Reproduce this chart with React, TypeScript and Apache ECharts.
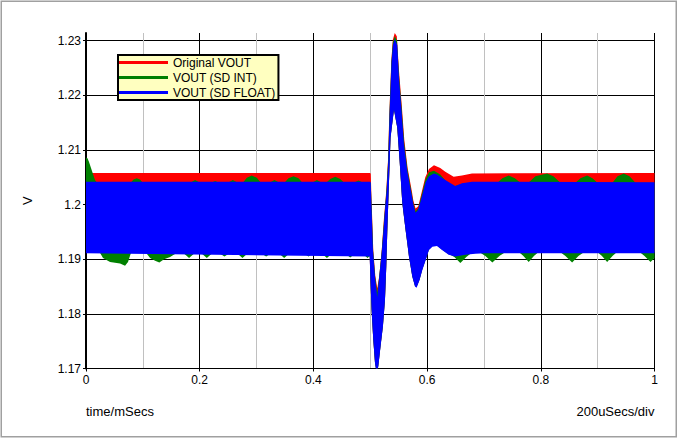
import React, { useEffect, useRef } from "react";
import * as echarts from "echarts";

const FONT = '"Liberation Sans", Arial, sans-serif';

const xTickValues = [0, 0.2, 0.4, 0.6, 0.8, 1];
const yTickValues = [1.17, 1.18, 1.19, 1.2, 1.21, 1.22, 1.23];
const seriesNames = ["Original VOUT", "VOUT (SD INT)", "VOUT (SD FLOAT)"];
const seriesColors = ["#ff0000", "#008000", "#0000ff"];

// Original VOUT: ripple envelope (upper / lower), time in mSecs
const redUpperT = [0, 0.5, 0.5009, 0.5023, 0.5053, 0.5088, 0.5123, 0.5158, 0.5202, 0.5241, 0.5269, 0.5287, 0.5312, 0.5335, 0.537, 0.5396, 0.5431, 0.5467, 0.5505, 0.5554, 0.5599, 0.5657, 0.5734, 0.5757, 0.5797, 0.5845, 0.588, 0.5968, 0.6033, 0.6121, 0.6232, 0.632, 0.6467, 0.6614, 0.679, 1];
const redUpperV = [1.2058, 1.2058, 1.2056, 1.2008, 1.1917, 1.187, 1.1847, 1.1869, 1.1917, 1.1975, 1.2008, 1.2035, 1.208, 1.2164, 1.2262, 1.2301, 1.2314, 1.2308, 1.2246, 1.2182, 1.2118, 1.2067, 1.2023, 1.2008, 1.1993, 1.1997, 1.2012, 1.205, 1.2065, 1.2072, 1.2067, 1.206, 1.2051, 1.2053, 1.2057, 1.2058];
const redLowerT = [0, 0.499, 0.5005, 0.5023, 0.5053, 0.5083, 0.5111, 0.5141, 0.5181, 0.5223, 0.5259, 0.5282, 0.5299, 0.5317, 0.5357, 0.5417, 0.5475, 0.5516, 0.5563, 0.5616, 0.5651, 0.5681, 0.571, 0.5739, 0.5787, 0.5815, 0.5868, 0.5915, 0.5974, 0.6033, 0.6092, 0.6174, 0.6262, 0.6379, 0.6496, 0.6673, 0.6849, 0.7025, 1];
const redLowerV = [1.1913, 1.1907, 1.1858, 1.1809, 1.1754, 1.1712, 1.1694, 1.1705, 1.1742, 1.1779, 1.1827, 1.1888, 1.195, 1.2005, 1.2124, 1.2175, 1.2142, 1.2082, 1.2005, 1.1959, 1.1931, 1.1906, 1.1888, 1.187, 1.1852, 1.185, 1.1864, 1.1882, 1.19, 1.1919, 1.1925, 1.1926, 1.1919, 1.191, 1.1907, 1.191, 1.1912, 1.1913, 1.1913];

// VOUT (SD INT)
const greenUpperT = [0, 0.0026, 0.0053, 0.0088, 0.0123, 0.0158, 0.0194,
  0.0787, 0.0836, 0.0893, 0.0949, 0.0998,
  0.1831, 0.1919, 0.2007,
  0.2201, 0.2271, 0.2342,
  0.2495, 0.2583, 0.2671,
  0.2759, 0.2829, 0.2917, 0.3005, 0.3076,
  0.3227, 0.3315, 0.3403,
  0.3491, 0.3561, 0.365, 0.3738, 0.3808,
  0.3974, 0.4062, 0.415,
  0.4225, 0.4296, 0.4384, 0.4472, 0.4542,
  0.4706, 0.4794, 0.4882,
  0.5, 0.5009, 0.502, 0.505, 0.5085, 0.5123, 0.5155, 0.52, 0.5241, 0.5269, 0.5288, 0.5314, 0.5337, 0.5372, 0.5398, 0.5431, 0.5471, 0.5505, 0.5552, 0.5596, 0.5654, 0.573, 0.5758, 0.5797, 0.5842, 0.5883, 0.5971, 0.6033, 0.6121, 0.6232, 0.632, 0.6467, 0.6614, 0.679, 0.695,
  0.7236, 0.7324, 0.7435, 0.7544, 0.7641,
  0.7782, 0.7905, 0.8111, 0.8222, 0.8345,
  0.8609, 0.8697, 0.8815, 0.8908, 0.8996,
  0.9261, 0.9349, 0.946, 0.956, 0.9665,
  1];
const greenUpperV = [1.2086, 1.2085, 1.2078, 1.2067, 1.2056, 1.2045, 1.204,
  1.204, 1.2046, 1.2048, 1.2046, 1.204,
  1.204, 1.2045, 1.204,
  1.204, 1.2043, 1.204,
  1.204, 1.2045, 1.204,
  1.204, 1.2049, 1.2053, 1.2049, 1.204,
  1.204, 1.2045, 1.204,
  1.204, 1.2048, 1.2052, 1.2048, 1.204,
  1.204, 1.2045, 1.204,
  1.204, 1.2047, 1.2051, 1.2047, 1.204,
  1.204, 1.2044, 1.204,
  1.204, 1.204, 1.2008, 1.1917, 1.1869, 1.1839, 1.1865, 1.1912, 1.1969, 1.2005, 1.2031, 1.208, 1.2164, 1.2262, 1.2297, 1.2308, 1.23, 1.2238, 1.2176, 1.2114, 1.2064, 1.202, 1.2003, 1.1988, 1.1993, 1.2009, 1.2046, 1.2059, 1.2062, 1.2055, 1.2044, 1.2033, 1.2038, 1.204, 1.204,
  1.204, 1.2048, 1.2053, 1.2048, 1.204,
  1.204, 1.2052, 1.2057, 1.2052, 1.204,
  1.204, 1.2048, 1.2053, 1.2048, 1.204,
  1.204, 1.2052, 1.2057, 1.2052, 1.204,
  1.204];
const greenLowerT = [0, 0.0246, 0.0299, 0.0423, 0.0599, 0.0687, 0.0739, 0.0792,
  0.1056, 0.1127, 0.1215, 0.129, 0.1373, 0.1479, 0.1602,
  0.1708, 0.1813, 0.1919,
  0.2019, 0.2125, 0.2231,
  0.2329, 0.2435, 0.254,
  0.2646, 0.2752, 0.2857,
  0.3063, 0.3169, 0.3275,
  0.338, 0.3486, 0.3592,
  0.3808, 0.3914, 0.4019,
  0.4132, 0.4238, 0.4343,
  0.4542, 0.4648, 0.4754,
  0.4847, 0.4952, 0.4991,
  0.5005, 0.5023, 0.5053, 0.5083, 0.5111, 0.5141, 0.5181, 0.5223, 0.5259, 0.5282, 0.5299, 0.5317, 0.5357, 0.5417, 0.5475, 0.5516, 0.5563, 0.5616, 0.5651, 0.5681, 0.571, 0.5739, 0.5787, 0.5815, 0.5868, 0.5915, 0.5974, 0.6033, 0.6092, 0.6174, 0.6262, 0.6379,
  0.6408, 0.6479, 0.6585, 0.669, 0.6761, 0.6866,
  0.6937, 0.7025, 0.7148, 0.7271, 0.7359,
  0.7629, 0.7694, 0.7787, 0.7879, 0.7945,
  0.8357, 0.8433, 0.8551, 0.8662, 0.8745,
  0.9009, 0.9076, 0.9167, 0.9261, 0.9326,
  0.9754, 0.9824, 0.993, 1];
const greenLowerV = [1.1912, 1.1912, 1.1902, 1.1895, 1.1892, 1.1888, 1.1895, 1.1912,
  1.1912, 1.1902, 1.1897, 1.1894, 1.19, 1.1904, 1.1912,
  1.1912, 1.1902, 1.1912,
  1.1912, 1.1902, 1.1912,
  1.1912, 1.1905, 1.1912,
  1.1912, 1.1902, 1.1912,
  1.1912, 1.1905, 1.1912,
  1.1912, 1.1902, 1.1912,
  1.1912, 1.1905, 1.1912,
  1.1912, 1.1902, 1.1912,
  1.1912, 1.1903, 1.1912,
  1.1912, 1.1902, 1.1906,
  1.1857, 1.1808, 1.1753, 1.1711, 1.1693, 1.1704, 1.1741, 1.1778, 1.1826, 1.1887, 1.1949, 1.2004, 1.2123, 1.2174, 1.2141, 1.2081, 1.2004, 1.1958, 1.193, 1.1905, 1.1887, 1.1869, 1.1851, 1.1849, 1.1863, 1.1881, 1.1899, 1.1918, 1.1924, 1.1925, 1.1918, 1.1909,
  1.1908, 1.1904, 1.1893, 1.1904, 1.191, 1.1912,
  1.1912, 1.1906, 1.1894, 1.1906, 1.1912,
  1.1912, 1.1906, 1.1895, 1.1906, 1.1912,
  1.1912, 1.1906, 1.1894, 1.1906, 1.1912,
  1.1912, 1.1906, 1.1895, 1.1906, 1.1912,
  1.1912, 1.1906, 1.1895, 1.1902];

// VOUT (SD FLOAT)
const blueUpperT = [0, 0.5, 0.5009, 0.5018, 0.5047, 0.5083, 0.5123, 0.5153, 0.5199, 0.5241, 0.5269, 0.529, 0.5317, 0.534, 0.5375, 0.54, 0.5431, 0.5475, 0.5505, 0.5551, 0.5593, 0.5651, 0.5727, 0.576, 0.5797, 0.584, 0.5886, 0.5974, 0.6033, 0.6121, 0.6174, 0.632, 0.6496, 0.6614, 0.679, 1];
const blueUpperV = [1.2042, 1.2042, 1.204, 1.2008, 1.1917, 1.1868, 1.1831, 1.1862, 1.1908, 1.1963, 1.2003, 1.2027, 1.208, 1.2164, 1.2262, 1.2292, 1.2303, 1.2292, 1.2231, 1.217, 1.2109, 1.2061, 1.2018, 1.1999, 1.1985, 1.199, 1.2006, 1.2041, 1.2052, 1.2057, 1.2055, 1.2045, 1.2034, 1.2039, 1.2042, 1.2041];
const blueLowerT = [0, 0.499, 0.5005, 0.5023, 0.5053, 0.5083, 0.5111, 0.5141, 0.5181, 0.5223, 0.5259, 0.5282, 0.5299, 0.5317, 0.5357, 0.5417, 0.5475, 0.5516, 0.5563, 0.5616, 0.5651, 0.5681, 0.571, 0.5739, 0.5787, 0.5815, 0.5868, 0.5915, 0.5974, 0.6033, 0.6092, 0.6174, 0.6262, 0.6379, 0.6496, 0.6673, 0.6849, 0.7025, 1];
const blueLowerV = [1.1911, 1.1905, 1.1856, 1.1807, 1.1752, 1.171, 1.1692, 1.1703, 1.174, 1.1777, 1.1825, 1.1886, 1.1948, 1.2003, 1.2122, 1.2173, 1.214, 1.208, 1.2003, 1.1957, 1.1929, 1.1904, 1.1886, 1.1868, 1.185, 1.1848, 1.1862, 1.188, 1.1898, 1.1917, 1.1923, 1.1924, 1.1917, 1.1908, 1.1905, 1.1908, 1.191, 1.1911, 1.1911];

const bands = [
  { upT: redUpperT, upV: redUpperV, loT: redLowerT, loV: redLowerV },
  { upT: greenUpperT, upV: greenUpperV, loT: greenLowerT, loV: greenLowerV },
  { upT: blueUpperT, upV: blueUpperV, loT: blueLowerT, loV: blueLowerV },
];

function makeRenderer(band: any, color: string) {
  return (_params: any, api: any) => {
    const pts: number[][] = [];
    for (let i = 0; i < band.upT.length; i++) pts.push(api.coord([band.upT[i], band.upV[i]]));
    for (let i = band.loT.length - 1; i >= 0; i--) pts.push(api.coord([band.loT[i], band.loV[i]]));
    return { type: "polygon", shape: { points: pts }, style: { fill: color, stroke: null } };
  };
}

export default function App() {
  const ref = useRef<HTMLDivElement>(null);
  useEffect(() => {
    if (!ref.current) return;
    const chart = echarts.init(ref.current, null, { renderer: "svg" });
    const option: any = {
      animation: false,
      backgroundColor: "#ffffff",
      textStyle: { fontFamily: FONT },
      grid: { left: 86, right: 23.5, top: 33, bottom: 69.5, outerBoundsMode: "none" },
      legend: {
        show: true,
        orient: "vertical",
        left: 118,
        top: 55,
        padding: [0, 3, 0, 1],
        itemWidth: 49,
        itemHeight: 3,
        itemGap: 0,
        icon: "rect",
        selectedMode: false,
        backgroundColor: "#ffffc0",
        borderColor: "#000000",
        borderWidth: 2,
        textStyle: { fontSize: 12, lineHeight: 15, color: "#000", fontFamily: FONT },
        data: seriesNames.map((n, i) => ({ name: n, itemStyle: { color: seriesColors[i] } })),
      },
      xAxis: {
        type: "value",
        min: 0,
        max: 1,
        interval: 0.2,
        axisLine: { show: true, onZero: false, lineStyle: { color: "#000", width: 1 } },
        axisTick: { show: true, length: 3, lineStyle: { color: "#000" } },
        axisLabel: {
          color: "#000",
          fontSize: 12,
          fontFamily: FONT,
          margin: 5,
          customValues: xTickValues,
          formatter: (v: number) => String(Math.round(v * 10) / 10),
        },
        splitLine: { show: true, lineStyle: { color: "#000", width: 1 } },
        minorTick: { show: false, splitNumber: 2 },
        minorSplitLine: { show: true, lineStyle: { color: "#c0c0c0", width: 1 } },
      },
      yAxis: {
        type: "value",
        min: 1.17,
        max: 1.2314,
        interval: 0.01,
        name: "V",
        nameLocation: "middle",
        nameGap: 52,
        nameRotate: 90,
        nameTextStyle: { fontSize: 13, color: "#000", fontFamily: FONT },
        axisLine: { show: true, onZero: false, lineStyle: { color: "#000", width: 2 } },
        axisTick: { show: true, length: 3, customValues: yTickValues, lineStyle: { color: "#000" } },
        axisLabel: {
          color: "#000",
          fontSize: 12,
          fontFamily: FONT,
          margin: 5,
          customValues: yTickValues,
          formatter: (v: number) => String(Math.round(v * 100) / 100),
        },
        splitLine: { show: true, lineStyle: { color: "#000", width: 1 } },
      },
      graphic: [
        {
          type: "rect",
          silent: true,
          z: 100,
          shape: { x: 1.25, y: 1.25, width: 675, height: 435.5 },
          style: { fill: "none", stroke: "#a0a0a0", lineWidth: 1.5 },
        },
        {
          type: "text",
          silent: true,
          x: 86,
          y: 411.5,
          style: { text: "time/mSecs", fontSize: 13, fontFamily: FONT, fill: "#000", verticalAlign: "middle", align: "left" },
        },
        {
          type: "text",
          silent: true,
          x: 654.5,
          y: 411.5,
          style: { text: "200uSecs/div", fontSize: 13, fontFamily: FONT, fill: "#000", verticalAlign: "middle", align: "right" },
        },
      ],
      series: bands.map((b, i) => ({
        type: "custom",
        name: seriesNames[i],
        coordinateSystem: "cartesian2d",
        clip: true,
        silent: true,
        itemStyle: { color: seriesColors[i] },
        data: [[0, 1.2]],
        encode: { x: 0, y: 1 },
        renderItem: makeRenderer(b, seriesColors[i]),
      })),
    };
    chart.setOption(option);
    return () => chart.dispose();
  }, []);
  return (
    <div
      ref={ref}
      style={{ position: "absolute", left: 0, top: 0, width: 678, height: 438, background: "#fff" }}
    />
  );
}
